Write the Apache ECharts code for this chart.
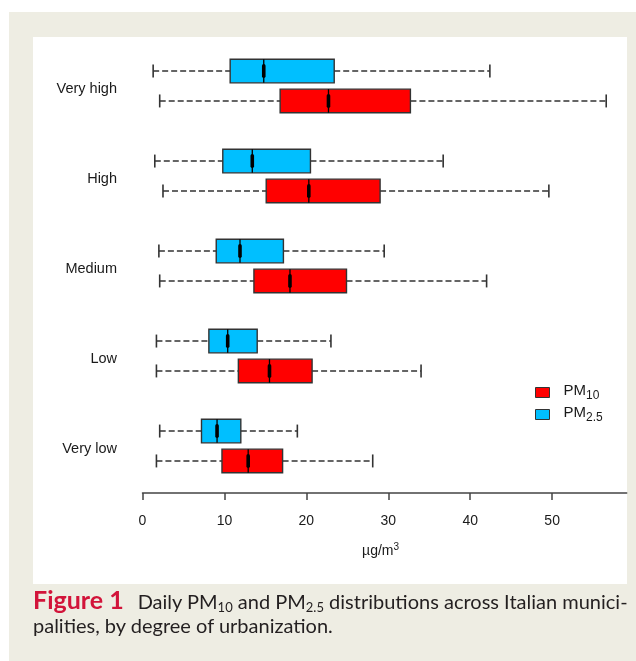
<!DOCTYPE html>
<html>
<head>
<meta charset="utf-8">
<script src="https://cdn.jsdelivr.net/npm/echarts@6/dist/echarts.min.js"></script>
<style>
  html, body { margin: 0; padding: 0; background: #ffffff; }
  body { width: 636px; height: 661px; position: relative; overflow: hidden; }
  #frame { position: absolute; left: 9px; top: 12px; width: 627px; height: 649px; background: #EEEDE3; }
  #panel { position: absolute; left: 33px; top: 37px; width: 594px; height: 547px; background: #ffffff; }
  #chart { position: absolute; left: 0; top: 0; width: 636px; height: 661px; }
  #caption {
    position: absolute; left: 33px; top: 587px; width: 610px;
    font-family: Lato, "Open Sans", sans-serif; font-size: 20px; line-height: 24px;
    color: #231F20; white-space: nowrap;
  }
  #caption .fig { color: #D2143A; font-weight: bold; font-size: 25px; margin-right: 14px; }
  #caption sub { font-size: 13px; vertical-align: -3px; line-height: 0; }
</style>
</head>
<body>
<div id="frame"></div>
<div id="panel"></div>
<div id="chart"></div>
<div id="caption"><span class="fig">Figure 1</span>Daily PM<sub>10</sub> and PM<sub>2.5</sub> distributions across Italian munici-<br>palities, by degree of urbanization.</div>
<script>
// Degree of urbanization (top to bottom)
const urbanization = ['Very high', 'High', 'Medium', 'Low', 'Very low'];

// Five-number summaries per class: [min, Q1, median, Q3, max] in µg/m³
const pm10Stats = [
  [2.1, 16.8, 22.7, 32.7, 56.6],
  [2.5, 15.1, 20.3, 29.0, 49.6],
  [2.1, 13.6, 18.0, 24.9, 42.0],
  [1.7, 11.7, 15.5, 20.7, 34.0],
  [1.7, 9.7, 12.9, 17.1, 28.1]
];
const pm25Stats = [
  [1.3, 10.7, 14.8, 23.4, 42.4],
  [1.5, 9.8, 13.4, 20.5, 36.7],
  [2.0, 9.0, 11.9, 17.2, 29.5],
  [1.7, 8.1, 10.4, 14.0, 23.0],
  [2.1, 7.2, 9.1, 12.0, 18.9]
];

// Concentration axis ticks
const xTicks = [0, 10, 20, 30, 40, 50];

const FONT = '"Liberation Sans", Arial, sans-serif';
const INK = '#333333';
const TEXT = '#1a1a1a';

function toRows(stats) {
  return stats.map((s, i) => [i].concat(s));
}

// Draws one horizontal box-and-whisker per category row.
// shift: vertical offset of the box inside its band (fraction of the band)
function boxRenderer(shift, fill) {
  return function (params, api) {
    const cat = api.value(0);
    const band = Math.abs(api.size([0, 1])[1]);
    const yc = api.coord([0, cat])[1] + shift * band;
    const h = band * 0.262;
    const cap = h * 0.55;
    const px = (dim) => api.coord([api.value(dim), cat])[0];
    const xMin = px(1), xQ1 = px(2), xMed = px(3), xQ3 = px(4), xMax = px(5);
    const dash = { stroke: INK, lineWidth: 1.5, lineDash: [6, 3] };
    const solid = { stroke: INK, lineWidth: 1.6 };
    return {
      type: 'group',
      children: [
        { type: 'line', shape: { x1: xMin, y1: yc, x2: xQ1, y2: yc }, style: dash },
        { type: 'line', shape: { x1: xQ3, y1: yc, x2: xMax, y2: yc }, style: dash },
        { type: 'line', shape: { x1: xMin, y1: yc - cap / 2, x2: xMin, y2: yc + cap / 2 }, style: solid },
        { type: 'line', shape: { x1: xMax, y1: yc - cap / 2, x2: xMax, y2: yc + cap / 2 }, style: solid },
        { type: 'rect', shape: { x: xQ1, y: yc - h / 2, width: xQ3 - xQ1, height: h },
          style: { fill: fill, stroke: INK, lineWidth: 1.4 } },
        { type: 'line', shape: { x1: xMed, y1: yc - h / 2, x2: xMed, y2: yc + h / 2 },
          style: { stroke: '#000', lineWidth: 1.3 } },
        { type: 'line', shape: { x1: xMed, y1: yc - h * 0.22, x2: xMed, y2: yc + h * 0.22 },
          style: { stroke: '#000', lineWidth: 3.6, lineCap: 'round' } }
      ]
    };
  };
}

const chart = echarts.init(document.getElementById('chart'), null, { renderer: 'canvas' });

chart.setOption({
  animation: false,
  backgroundColor: 'transparent',
  textStyle: { fontFamily: FONT },
  grid: { left: 142.5, top: 41, width: 484.2, height: 450, containLabel: false },
  xAxis: {
    type: 'value', min: 0, max: 59.1,
    offset: 2,
    splitLine: { show: false },
    axisLine: { show: true, lineStyle: { color: '#444', width: 1.5 } },
    axisTick: { show: true, length: 7, customValues: xTicks, lineStyle: { color: '#444', width: 1.5 } },
    axisLabel: { customValues: xTicks, color: TEXT, fontSize: 14, fontFamily: FONT, margin: 21 },
    name: '{a|µg/m}{s|3}',
    nameLocation: 'middle',
    nameGap: 49,
    nameTextStyle: {
      padding: [0, 8, 0, 0],
      rich: {
        a: { fontSize: 14, color: TEXT, fontFamily: FONT, verticalAlign: 'bottom' },
        s: { fontSize: 10, color: TEXT, fontFamily: FONT, verticalAlign: 'bottom', padding: [0, 0, 6, 0] }
      }
    }
  },
  yAxis: {
    type: 'category', data: urbanization, inverse: true,
    axisLine: { show: false }, axisTick: { show: false }, splitLine: { show: false },
    axisLabel: {
      margin: 25.5,
      formatter: (v) => '{c|' + v + '}',
      rich: {
        c: { color: TEXT, fontSize: 14.5, fontFamily: FONT, padding: [5, 0, 0, 0] }
      }
    }
  },
  legend: {
    orient: 'vertical', left: 535, top: 383, padding: 0,
    itemWidth: 14, itemHeight: 10, itemGap: 3,
    data: [
      { name: 'PM10', icon: 'rect', itemStyle: { color: '#FF0000', borderColor: INK, borderWidth: 1 } },
      { name: 'PM2.5', icon: 'rect', itemStyle: { color: '#00BFFF', borderColor: INK, borderWidth: 1 } }
    ],
    formatter: (n) => n === 'PM10' ? '{a|PM}{s|10}' : '{a|PM}{s|2.5}',
    textStyle: {
      padding: [0, 0, 0, 9],
      rich: {
        a: { fontSize: 15, color: TEXT, fontFamily: FONT, verticalAlign: 'bottom', padding: [0, 0, 4, 0] },
        s: { fontSize: 12, color: TEXT, fontFamily: FONT, verticalAlign: 'bottom' }
      }
    }
  },
  series: [
    {
      name: 'PM2.5', type: 'custom', color: '#00BFFF',
      renderItem: boxRenderer(-0.166, '#00BFFF'),
      encode: { x: [1, 2, 3, 4, 5], y: 0 },
      data: toRows(pm25Stats)
    },
    {
      name: 'PM10', type: 'custom', color: '#FF0000',
      renderItem: boxRenderer(0.166, '#FF0000'),
      encode: { x: [1, 2, 3, 4, 5], y: 0 },
      data: toRows(pm10Stats)
    }
  ]
});
</script>
</body>
</html>
